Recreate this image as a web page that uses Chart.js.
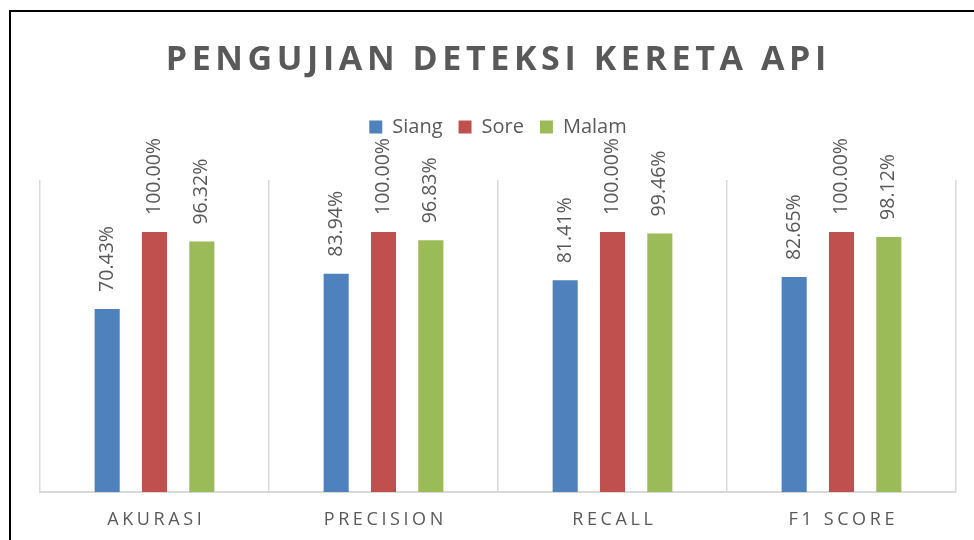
<!DOCTYPE html>
<html>
<head>
<meta charset="utf-8">
<title>Pengujian Deteksi Kereta Api</title>
<script src="https://cdn.jsdelivr.net/npm/chart.js@4.4.0/dist/chart.umd.min.js"></script>
<style>
  html, body { margin: 0; padding: 0; background: #fff; overflow: hidden; }
  #wadah { position: relative; width: 974px; height: 540px; }
  #bingkai { position: absolute; left: 9px; top: 10px; right: 0; bottom: 0;
             border-top: 2px solid #000; border-left: 2px solid #000; pointer-events: none; }
</style>
</head>
<body>
<div id="wadah"><canvas id="grafik"></canvas><div id="bingkai"></div></div>
<script>
// data hasil pengujian (dalam persen)
var judul = 'PENGUJIAN DETEKSI KERETA API';
var kategori = ['AKURASI', 'PRECISION', 'RECALL', 'F1 SCORE'];
var siang = [70.43, 83.94, 81.41, 82.65];
var sore = [100.00, 100.00, 100.00, 100.00];
var malam = [96.32, 96.83, 99.46, 98.12];

var abu = '#595959';

// tulis teks dengan jarak antar huruf
function tulisRenggang(ctx, teks, cx, cy, jarak) {
  var lebar = 0;
  for (var i = 0; i < teks.length; i++) lebar += ctx.measureText(teks[i]).width;
  lebar += jarak * (teks.length - 1);
  var x = cx - lebar / 2;
  ctx.textAlign = 'left';
  ctx.textBaseline = 'middle';
  for (var j = 0; j < teks.length; j++) {
    ctx.fillText(teks[j], x, cy);
    x += ctx.measureText(teks[j]).width + jarak;
  }
}

// judul + label sumbu x
const pluginTeks = {
  id: 'teks',
  afterDraw(chart) {
    const ctx = chart.ctx;
    const area = chart.chartArea;
    ctx.save();
    ctx.fillStyle = abu;
    ctx.font = 'bold 34px "Open Sans"';
    tulisRenggang(ctx, judul, (area.left + area.right) / 2 - 2, 60, 4.6);
    ctx.font = '18px "Open Sans"';
    const sx = chart.scales.x;
    kategori.forEach(function (k, i) {
      tulisRenggang(ctx, k, sx.getPixelForValue(i), 520, 3.6);
    });
    ctx.restore();
  }
};

// label nilai di atas batang (diputar)
const pluginNilai = {
  id: 'nilai',
  afterDatasetsDraw(chart) {
    const ctx = chart.ctx;
    ctx.save();
    ctx.fillStyle = abu;
    ctx.font = '19.5px "Open Sans"';
    ctx.textAlign = 'left';
    ctx.textBaseline = 'middle';
    chart.data.datasets.forEach(function (ds, d) {
      chart.getDatasetMeta(d).data.forEach(function (bar, i) {
        ctx.save();
        ctx.translate(bar.x, bar.y - 17);
        ctx.rotate(-Math.PI / 2);
        ctx.fillText(ds.data[i].toFixed(2) + '%', 0, 0);
        ctx.restore();
      });
    });
    ctx.restore();
  }
};

// jarak tambahan di bawah legenda
const pluginJarakLegenda = {
  id: 'jarakLegenda',
  beforeLayout(chart) {
    const lg = chart.legend;
    if (!lg || lg._sudah) return;
    const fitAsli = lg.fit;
    lg.fit = function () {
      fitAsli.call(lg);
      lg.height += 33;
    };
    lg._sudah = true;
  }
};

new Chart(document.getElementById('grafik'), {
  type: 'bar',
  data: {
    labels: kategori,
    datasets: [
      { label: 'Siang', data: siang, backgroundColor: '#4F81BD' },
      { label: 'Sore', data: sore, backgroundColor: '#C0504D' },
      { label: 'Malam', data: malam, backgroundColor: '#9BBB59' }
    ]
  },
  options: {
    responsive: true,
    maintainAspectRatio: false,
    animation: false,
    categoryPercentage: 0.62,
    barPercentage: 0.53,
    layout: { padding: { top: 101, left: 40, right: 18, bottom: 48 } },
    scales: {
      x: {
        grid: { color: '#d9d9d9', lineWidth: 1.5, drawTicks: false, offset: true },
        border: { color: '#d9d9d9', width: 2 },
        ticks: { display: false }
      },
      y: { display: false, min: 0, max: 120 }
    },
    plugins: {
      tooltip: { enabled: false },
      legend: {
        position: 'top',
        labels: {
          boxWidth: 13,
          boxHeight: 13,
          padding: 16,
          color: abu,
          font: { family: 'Open Sans', size: 20 }
        }
      }
    }
  },
  plugins: [pluginTeks, pluginNilai, pluginJarakLegenda]
});
</script>
</body>
</html>
